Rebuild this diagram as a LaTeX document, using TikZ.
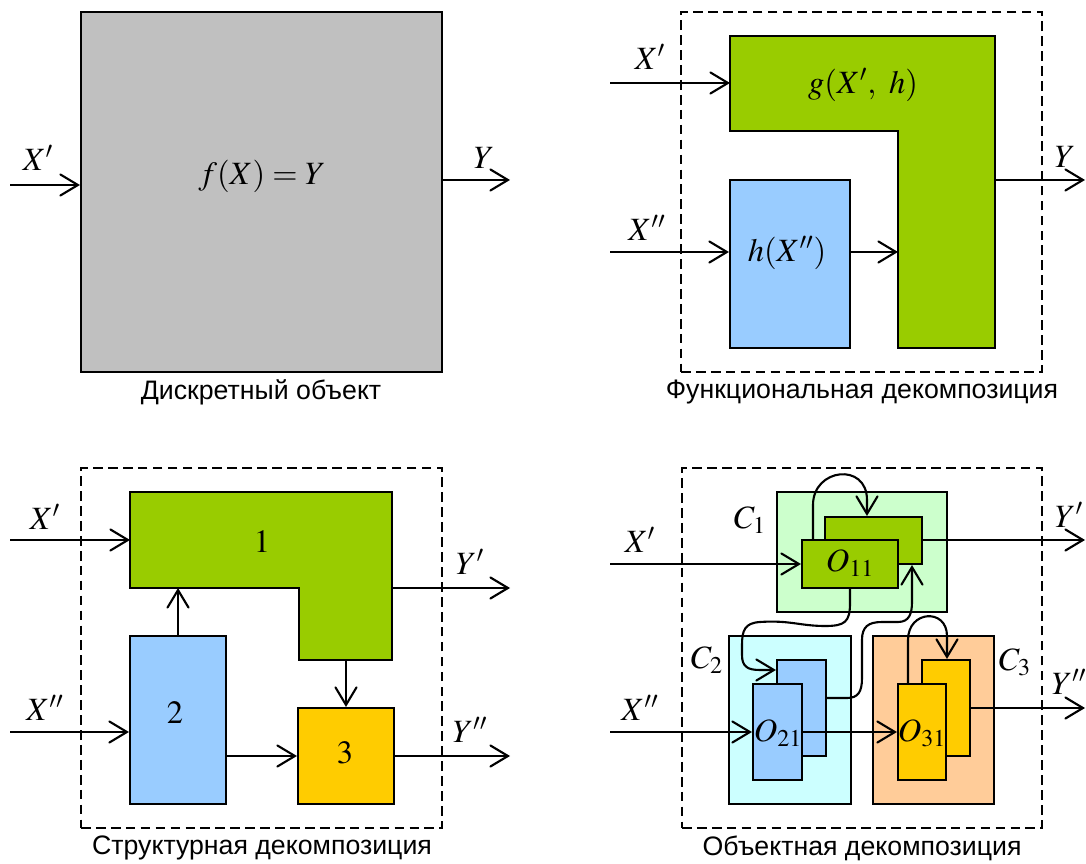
\documentclass[tikz,border=0pt]{standalone}
\usepackage{mathptmx}
\usepackage[no-math]{fontspec}
\setmainfont{Liberation Sans}
\usetikzlibrary{arrows.meta,fit}
\definecolor{grayc}{HTML}{C0C0C0}
\definecolor{greenc}{HTML}{99CC00}
\definecolor{bluec}{HTML}{99CCFF}
\definecolor{yellowc}{HTML}{FFCC00}
\definecolor{lgreen}{HTML}{CCFFCC}
\definecolor{lcyan}{HTML}{CCFFFF}
\definecolor{lorange}{HTML}{FFCC99}
\begin{document}
\begin{tikzpicture}[x=0.02cm, y=-0.02cm,
  every node/.style={font=\fontsize{18.5}{21}\selectfont},
  blk/.style={draw, line width=1.2pt, inner sep=0pt},
  frame/.style={draw, line width=1pt, dash pattern=on 5.5pt off 3pt, inner sep=0pt},
  arr/.style={line width=1.2pt, -{Straight Barb[length=10pt,width=12pt,line cap=round]}},
  captxt/.style={font=\fontsize{15.2}{18}\selectfont}]
\useasboundingbox (0,0) rectangle (1086,864);

%object
\node[blk, fill=grayc, fit={(81,12) (442,372)}] (obj) {};
\node (ftxt) at (262,176) {$f(X)=Y$};
\coordinate (in1) at (10,185);
\coordinate (out1) at (510,180);
\draw[arr] (in1) -- (obj.west |- in1);
\draw[arr] (obj.east |- out1) -- (out1);
\node (lx1) at (38,158) {$X'$};
\node (ly1) at (484,158) {$Y$};
\node[captxt] (cap1) at (261,392) {Дискретный объект};

%functional
\node[frame, fit={(681,12) (1042,372)}] (fr2) {};
\draw[blk, fill=greenc] (730,36) coordinate (g) -- (995,36) -- (995,348) coordinate (gr)
  -- (898,348) -- (898,131) coordinate (gin) -- (730,131) -- cycle;
\node[blk, fill=bluec, fit={(730,180) (850,348)}] (h) {};
\node (gtxt) at (863,85) {$g(X',\ h)$};
\node (htxt) at (787,253) {$h(X'')$};
\coordinate (in2a) at (610,83);
\coordinate (in2b) at (610,252);
\coordinate (out2) at (1085,180);
\draw[arr] (in2a) -- (g |- in2a);
\draw[arr] (in2b) -- (h.west |- in2b);
\draw[arr] (h.east |- in2b) -- (gin |- in2b);
\draw[arr] (gr |- out2) -- (out2);
\node (lx2a) at (650,57) {$X'$};
\node (lx2b) at (647,228) {$X''$};
\node (ly2) at (1065,157) {$Y$};
\node[captxt] (cap2) at (862,392) {Функциональная декомпозиция};

%structural
\node[frame, fit={(81,468) (442,828)}] (fr3) {};
\draw[blk, fill=greenc] (130,492) coordinate (s1) -- (392,492) -- (392,660) coordinate (s1r)
  -- (299,660) -- (299,588) -- (130,588) coordinate (s1b) -- cycle;
\node[blk, fill=bluec, fit={(130,636) (226,804)}] (s2) {};
\node[blk, fill=yellowc, fit={(298,708) (394,804)}] (s3) {};
\node (n1) at (262,542) {$1$};
\node (n2) at (175,713) {$2$};
\node (n3) at (345,753) {$3$};
\coordinate (in3a) at (10,540);
\coordinate (in3b) at (10,732);
\coordinate (out3a) at (510,588);
\coordinate (out3b) at (510,756);
\draw[arr] (in3a) -- (s1 |- in3a);
\draw[arr] (in3b) -- (s2.west |- in3b);
\draw[arr] (s2.north) -- (s2.north |- s1b);
\draw[arr] (s3.north |- s1r) -- (s3.north);
\draw[arr] (s2.east |- out3b) -- (s3.west |- out3b);
\draw[arr] (s1r |- out3a) -- (out3a);
\draw[arr] (s3.east |- out3b) -- (out3b);
\node (lx3a) at (45,517) {$X'$};
\node (lx3b) at (45,708) {$X''$};
\node (ly3a) at (470,562) {$Y'$};
\node (ly3b) at (470,730) {$Y''$};
\node[captxt] (cap3) at (262,848) {Структурная декомпозиция};

%objects
\node[frame, fit={(682,468) (1042,828)}] (fr4) {};
\node[blk, fill=lgreen, fit={(777,492) (947,612)}] (c1) {};
\node[blk, fill=lcyan, fit={(729,636) (851,804)}] (c2) {};
\node[blk, fill=lorange, fit={(873,636) (994,804)}] (c3) {};
\node[blk, fill=greenc, fit={(825,517) (922,564)}] (o11b) {};
\node[blk, fill=greenc, fit={(802,540) (898,588)}] (o11) {};
\node[blk, fill=bluec, fit={(777,660) (826,756)}] (o21b) {};
\node[blk, fill=bluec, fit={(753,684) (802,780)}] (o21) {};
\node[blk, fill=yellowc, fit={(922,660) (970,756)}] (o31b) {};
\node[blk, fill=yellowc, fit={(898,684) (946,780)}] (o31) {};
\node (t11) at (850,563) {$O_{11}$};
\node (t21) at (778,733) {$O_{21}$};
\node (t31) at (922,733) {$O_{31}$};
\node (lc1) at (750,520) {$C_1$};
\node (lc2) at (707,660) {$C_2$};
\node (lc3) at (1015,662) {$C_3$};
\coordinate (in4a) at (610,564);
\coordinate (in4b) at (610,732);
\coordinate (out4a) at (1085,540);
\coordinate (out4b) at (1085,708);
\draw[arr] (in4a) -- (o11.west |- in4a);
\draw[arr] (in4b) -- (o21.west |- in4b);
\draw[arr] (o21.east |- in4b) -- (o31.west |- in4b);
\draw[arr] (o11b.east |- out4a) -- (out4a);
\draw[arr] (o31b.east |- out4b) -- (out4b);
\draw[arr] (o11.north -| 813,0) -- (813,505) .. controls (813,468) and (867,462) .. (867,500)
  -- (o11b.north -| 867,0);
\draw[arr] (o31.north -| 908,0) -- (908,640) .. controls (908,610) and (947,608) .. (947,636)
  -- (o31b.north -| 947,0);
\draw[arr] (o11.south) -- (850,603) .. controls (850,622) and (845,626) .. (825,626)
  .. controls (800,626) and (790,620) .. (760,622) .. controls (745,623) and (742,630) .. (742,645)
  -- (742,655) .. controls (742,667) and (748,670) .. (760,670) -- (o21b.west |- 0,670);
\draw[arr] (o21b.east |- 0,698) -- (847,698) .. controls (858,698) and (862,692) .. (862,678)
  -- (862,640) .. controls (862,627) and (868,622) .. (882,622) -- (898,622)
  .. controls (909,622) and (912,614) .. (912,602) -- (o11b.south -| 912,0);
\node (ly4a) at (1069,515) {$Y'$};
\node (ly4b) at (1069,682) {$Y''$};
\node (lx4a) at (640,540) {$X'$};
\node (lx4b) at (640,708) {$X''$};
\node[captxt] (cap4) at (862,848) {Объектная декомпозиция};
\end{tikzpicture}
\end{document}
